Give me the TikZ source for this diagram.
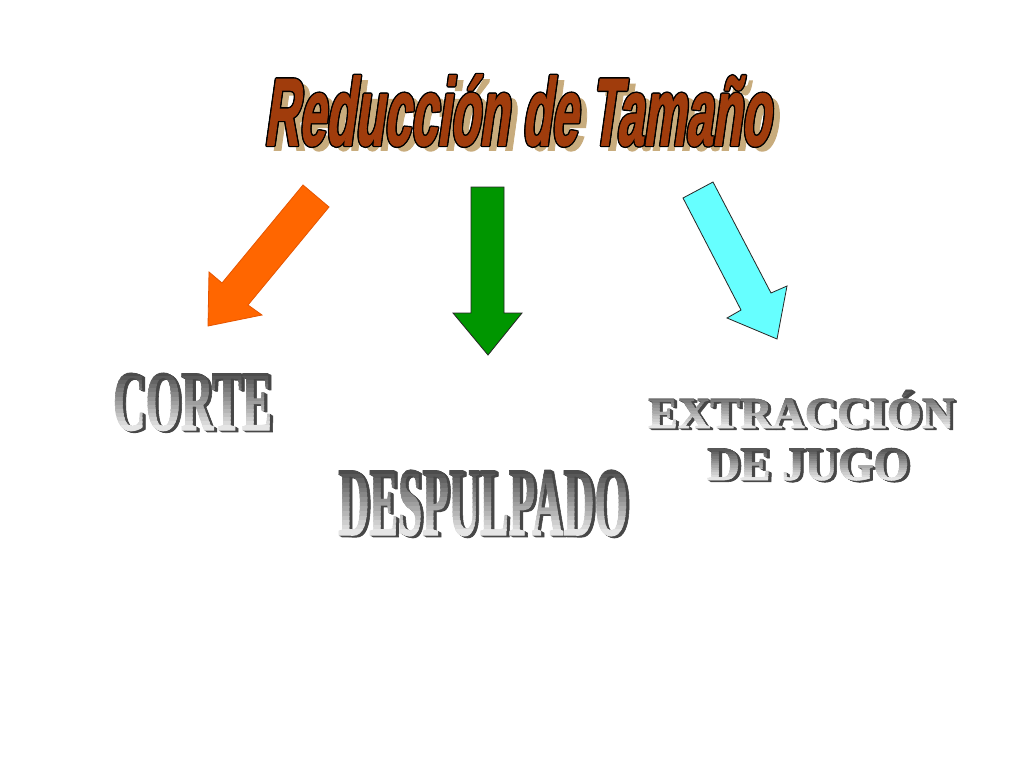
\documentclass[tikz,border=0pt]{standalone}
\usepackage{fontspec}
\setmainfont{Liberation Serif}
\newfontfamily\titlefont[BoldFeatures={FakeSlant=0.28,FakeBold=1.6}]{Liberation Sans}
\newfontfamily\metalfont[BoldFeatures={FakeBold=1.2}]{Liberation Serif}
\definecolor{titlebrown}{RGB}{160,60,12}
\definecolor{titleshadow}{RGB}{200,172,125}
\definecolor{arroworange}{RGB}{255,102,0}
\definecolor{orangeedge}{RGB}{230,85,0}
\definecolor{arrowgreen}{RGB}{0,150,0}
\definecolor{arrowcyan}{RGB}{102,255,255}
\tikzset{
  txt/.style={anchor=base west, inner sep=0pt, outer sep=0pt},
  blockarrow/.style={line width=0.8pt, line join=miter},
}
% metallic WordArt-like text: #1 name, #2 x, #3 baseline y, #4 width, #5 height, #6 text
\newcommand{\metaltext}[6]{%
  \foreach \k in {4,3,2,1}
    \node[txt, text=black!72] (#1-x\k) at ({#2+\k*0.8},{#3+\k*0.45}) {\resizebox{#4pt}{#5pt}{\metalfont\bfseries #6}};
  \foreach \i in {0,...,13} {
    \pgfmathsetmacro{\pc}{70-\i*4.6}
    \pgfmathsetmacro{\ya}{#3-#5+\i*#5/14-0.4}
    \pgfmathsetmacro{\yb}{#3-#5+(\i+1)*#5/14+0.4+(\i==13)*12}
    \begin{scope}
      \clip ({#2-6},\ya) rectangle ({#2+#4+12},\yb);
      \node[txt, text=black!\pc] (#1-b\i) at (#2,#3) {\resizebox{#4pt}{#5pt}{\metalfont\bfseries #6}};
    \end{scope}
  }
  \node[txt] (#1) at (#2,#3) {\resizebox{#4pt}{#5pt}{\phantom{\metalfont\bfseries #6}}};
}
\newcommand{\titletxt}{\resizebox{506pt}{70pt}{\titlefont\bfseries Reducción de Tamaño}}
\begin{document}
\begin{tikzpicture}[x=1pt,y=-1pt]
  \useasboundingbox[fill=white] (0,0) rectangle (1024,768);

  % ---- title ----
  \node[txt, text=titleshadow] (title-sh) at (271,150) {\titletxt};
  \foreach \dx/\dy [count=\n] in {1.4/0,-1.4/0,0/1.4,0/-1.4,1/1,-1/1,1/-1,-1/-1}
    \node[txt, text=black] (title-o\n) at ({264+\dx},{145+\dy}) {\titletxt};
  \node[txt, text=titlebrown] (title) at (264,145) {\titletxt};

  % ---- arrows ----
  \draw[blockarrow, fill=arroworange, draw=orangeedge]
    (303,185) -- (329,207) -- (248,305) -- (262,315) -- (208,326) -- (209,272) -- (222,283) -- cycle;
  \draw[blockarrow, fill=arrowgreen, draw=black!85]
    (471,187) -- (504,187) -- (504,313) -- (522,313) -- (488,355) -- (453,313) -- (471,313) -- cycle;
  \draw[blockarrow, fill=arrowcyan, draw=black!85]
    (683,198) -- (713,182) -- (771,293) -- (787,286) -- (777,339) -- (727,318) -- (741,310) -- cycle;

  % ---- labels ----
  \metaltext{corte}{113}{430}{159}{57}{CORTE}
  \metaltext{despulpado}{338}{535}{290}{65}{DESPULPADO}
  \metaltext{extraccion}{648}{428}{306}{38}{EXTRACCIÓN}
  \metaltext{jugo}{707}{480}{202}{32}{DE JUGO}
\end{tikzpicture}
\end{document}
